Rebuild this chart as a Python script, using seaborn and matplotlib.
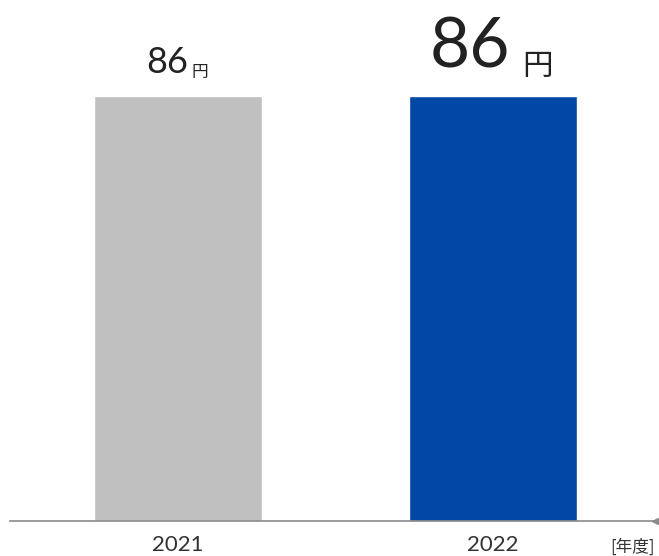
import matplotlib
matplotlib.use("Agg")
import matplotlib.pyplot as plt
import seaborn as sns
import pandas as pd

years = ["2021", "2022"]
values = [86, 86]
bar_colors = ["#c0c0c0", "#0047a6"]
unit = "円"
axis_unit = "[年度]"

sns.set_theme(style="white")
plt.rcParams["font.family"] = ["Lato", "Noto Sans CJK JP", "DejaVu Sans"]

fig = plt.figure(figsize=(6.59, 5.56), dpi=100)
# axes spans from the left edge of the baseline to its arrow tip
ax = fig.add_axes([10 / 659, (556 - 521) / 556, 645 / 659, 521 / 556])

df = pd.DataFrame({"year": years, "value": values})
sns.barplot(data=df, x="year", y="value", hue="year", palette=bar_colors,
            width=0.533, legend=False, ax=ax, saturation=1)

ax.set_xlim(-0.533, 1.514)
ax.set_ylim(0, 105.4)
for s in ["top", "right", "left"]:
    ax.spines[s].set_visible(False)
ax.spines["bottom"].set_color("#8a8a8a")
ax.spines["bottom"].set_linewidth(1.2)
ax.set_yticks([])
ax.set_xlabel("")
ax.set_ylabel("")
ax.tick_params(axis="x", length=0, pad=10, labelsize=16, labelcolor="#333333")

# small arrowhead at the right end of the baseline
ax.plot([1.514], [0], marker="<", markersize=5, color="#8a8a8a",
        clip_on=False, zorder=5)

ax.text(1.514, -0.05, axis_unit, transform=ax.get_xaxis_transform(),
        ha="right", va="center", fontsize=12, color="#333333",
        family=["Noto Sans CJK JP", "DejaVu Sans"])

# value labels: number plus unit, the latest year emphasised
styles = [
    dict(num_size=26, unit_size=12, num_dx=10, unit_dx=14, dy=23, udy=19),
    dict(num_size=50, unit_size=22, num_dx=17, unit_dx=29, dy=28, udy=21),
]
for i, (v, st) in enumerate(zip(values, styles)):
    ax.annotate(f"{v}", xy=(i, v), xytext=(st["num_dx"], st["dy"]),
                textcoords="offset pixels", ha="right", va="baseline",
                fontsize=st["num_size"], color="#222222")
    ax.annotate(unit, xy=(i, v), xytext=(st["unit_dx"], st["udy"]),
                textcoords="offset pixels", ha="left", va="baseline",
                fontsize=st["unit_size"], color="#222222",
                family=["Noto Sans CJK JP", "DejaVu Sans"])

fig.savefig("out.png", dpi=100)
